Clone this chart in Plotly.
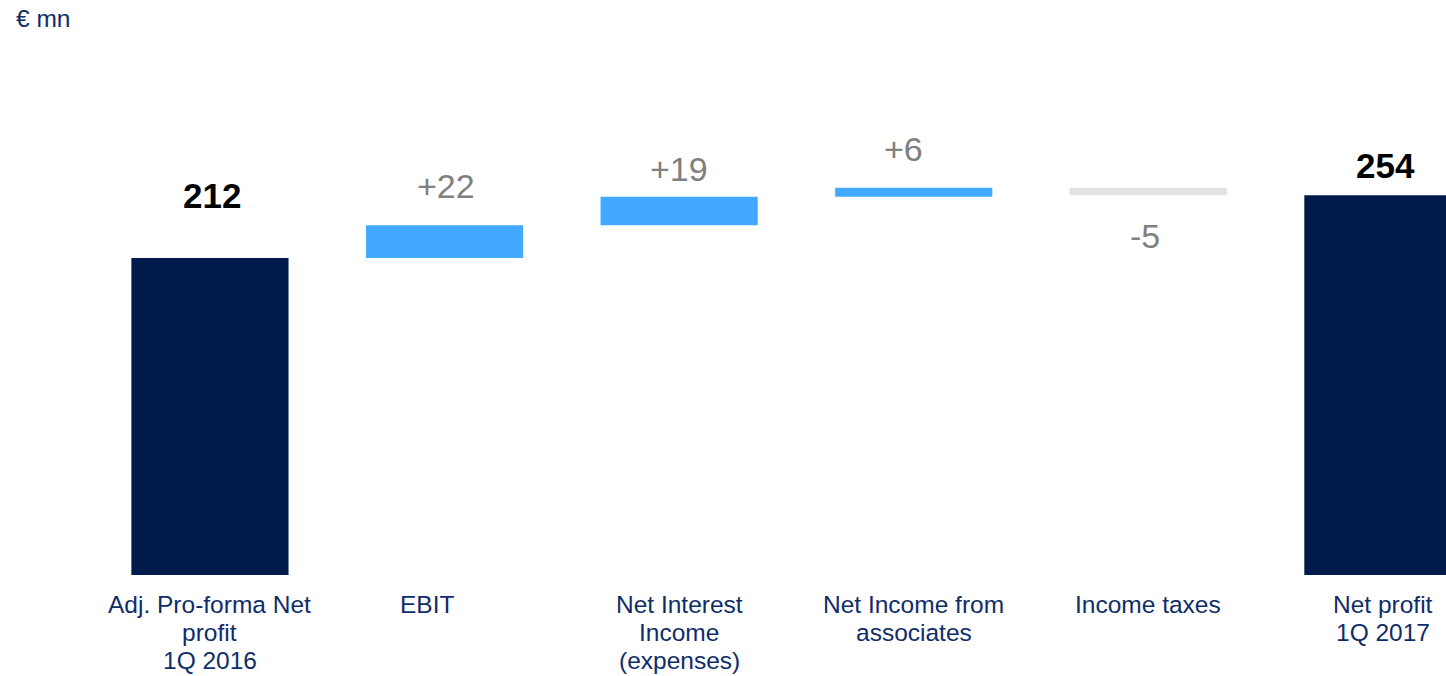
import plotly.graph_objects as go

categories = ["Adj. Pro-forma Net<br>profit<br>1Q 2016", "EBIT", "Net Interest<br>Income<br>(expenses)",
              "Net Income from<br>associates", "Income taxes", "Net profit<br>1Q 2017"]
values = [212, 22, 19, 6, -5, 254]
measures = ["absolute", "relative", "relative", "relative", "relative", "total"]
value_labels = ["212", "+22", "+19", "+6", "-5", "254"]

# styling (pixel offsets for labels)
label_yshift = [63, 39, 28, 39, -41, 30]
label_xshift = [2, 1, 0, -10, -3, 3]
cat_xshift = [0, -18, 0, 0, 0, 0]

NAVY = "#001A4B"
BLUE = "#41AAFF"
GREY = "#E2E2E2"
TEXT_NAVY = "#0F2D69"
FONT = "Liberation Sans, Arial, sans-serif"

x_idx = list(range(len(categories)))

fig = go.Figure()
fig.add_trace(go.Waterfall(
    x=x_idx, y=values, measure=measures, width=0.67,
    increasing=dict(marker=dict(color=BLUE)),
    decreasing=dict(marker=dict(color=GREY)),
    totals=dict(marker=dict(color=NAVY)),
    connector=dict(visible=False),
    hoverinfo="skip",
))

# compute bar ends for label anchoring
running = 0
ends = []
for v, m in zip(values, measures):
    if m == "absolute":
        running = v
        ends.append(v)
    elif m == "total":
        ends.append(running)
    else:
        start = running
        running += v
        ends.append(running if v >= 0 else start + v)

annotations = []
for i, (txt, end) in enumerate(zip(value_labels, ends)):
    total = measures[i] in ("absolute", "total")
    annotations.append(dict(
        x=i, y=end, xref="x", yref="y", text=("<b>%s</b>" % txt) if total else txt,
        showarrow=False, yanchor="middle", xanchor="center",
        yshift=label_yshift[i], xshift=label_xshift[i],
        font=dict(family=FONT, size=35 if total else 34,
                  color="#000000" if total else "#808080"),
    ))

for i, cat in enumerate(categories):
    for j, line in enumerate(cat.split("<br>")):
        annotations.append(dict(
            x=i, y=0, xref="x", yref="y", text=line, showarrow=False,
            yanchor="middle", xanchor="center", yshift=-30 - 28 * j, xshift=cat_xshift[i],
            font=dict(family=FONT, size=24.5, color=TEXT_NAVY),
        ))

annotations.append(dict(
    x=0, y=1, xref="paper", yref="paper", text="€ mn", showarrow=False,
    xanchor="left", yanchor="top", xshift=14, yshift=-3,
    font=dict(family=FONT, size=24.5, color=TEXT_NAVY),
))

fig.update_layout(
    width=1446, height=676,
    margin=dict(l=0, r=0, t=0, b=0),
    paper_bgcolor="white", plot_bgcolor="white",
    showlegend=False,
    xaxis=dict(range=[-0.895, 5.269], visible=False, fixedrange=True),
    yaxis=dict(range=[-67.56, 384.6], visible=False, fixedrange=True),
    annotations=annotations,
)

fig.write_html("out.html")
